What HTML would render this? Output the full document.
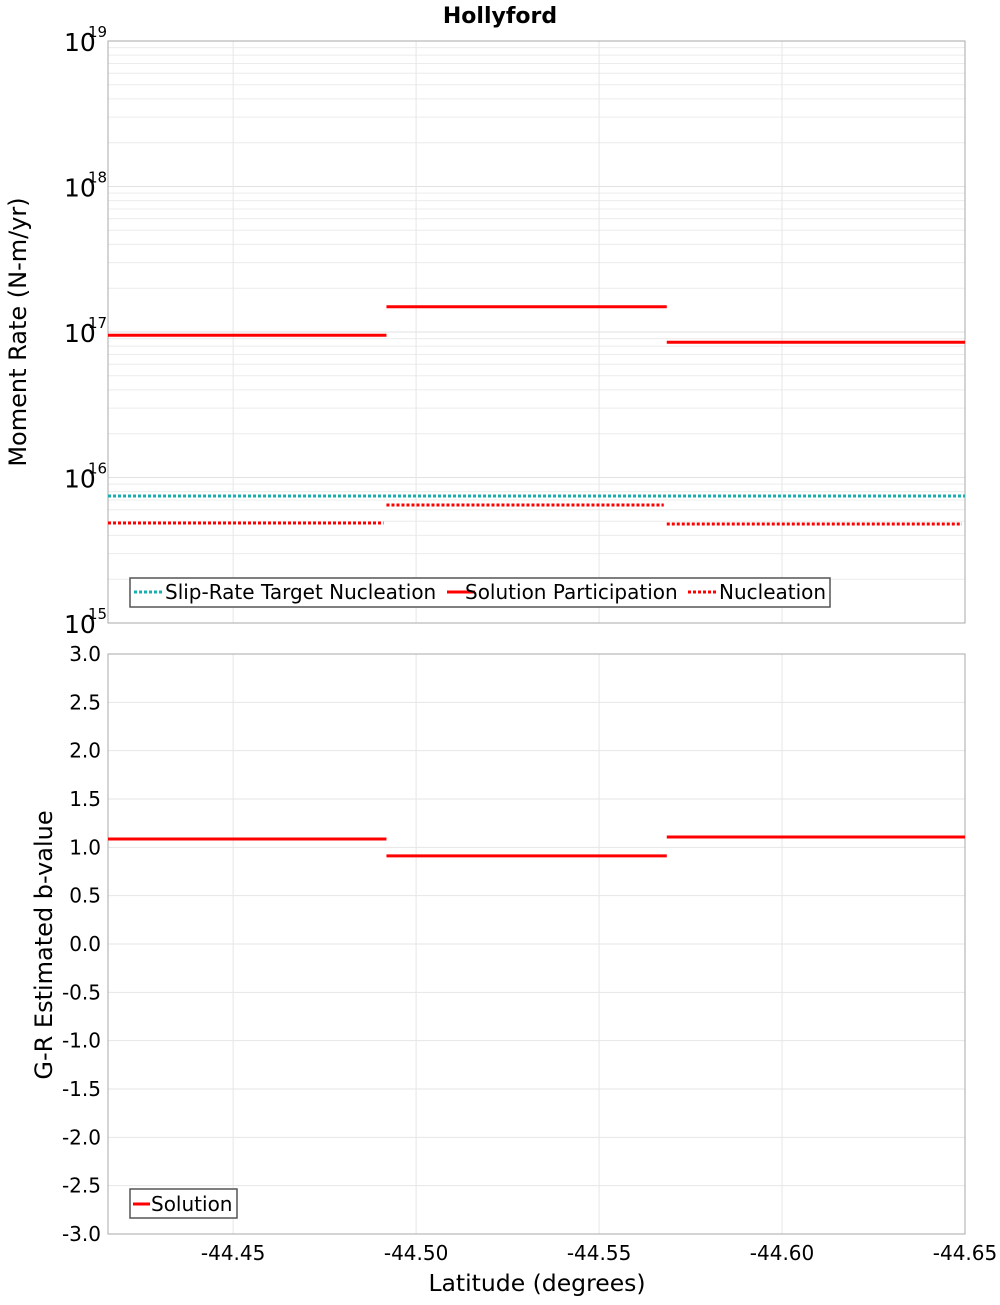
<!DOCTYPE html>
<html><head><meta charset="utf-8"><style>
body{margin:0;background:#fff;}
svg text{font-family:"DejaVu Sans","Liberation Sans",sans-serif;}
</style></head><body>
<svg id="c" width="1000" height="1300" xmlns="http://www.w3.org/2000/svg">
<text x="500" y="23" text-anchor="middle" font-size="22" font-weight="bold">Hollyford</text>
<g id="g1"></g>
<g id="g2"></g>
<text transform="translate(26,332) rotate(-90)" text-anchor="middle" font-size="24">Moment Rate (N-m/yr)</text>
<text transform="translate(52,945) rotate(-90)" text-anchor="middle" font-size="24">G-R Estimated b-value</text>
<text x="537" y="1291" text-anchor="middle" font-size="23.5">Latitude (degrees)</text>
</svg>
<script>
const segStarts=[44.4158,44.4919,44.5685];
const segEnds=[44.4919,44.5685,44.65];
const participation=[9.5e16,1.49e17,8.5e16];
const nucleation=[4.87e15,6.47e15,4.79e15];
const slipTarget=7.46e15;
const bValues=[1.086,0.911,1.107];
const xTicks=[44.45,44.50,44.55,44.60,44.65];
const xTickLabels=["-44.45","-44.50","-44.55","-44.60","-44.65"];
const logDecades=[15,16,17,18,19];
const bTicks=[3.0,2.5,2.0,1.5,1.0,0.5,0.0,-0.5,-1.0,-1.5,-2.0,-2.5,-3.0];

const NS="http://www.w3.org/2000/svg";
const L=108,R=965;
const X0=44.4158,X1=44.65;
function sx(v){return L+(v-X0)/(X1-X0)*(R-L);}
const T1=41,B1=623;
function sy1(v){return B1-(Math.log10(v)-15)/4*(B1-T1);}
const T2=654,B2=1234;
function sy2(v){return B2-(v+3)/6*(B2-T2);}
function mk(p,tag,a){const e=document.createElementNS(NS,tag);for(const k in a)e.setAttribute(k,a[k]);p.appendChild(e);return e;}
const g1=document.getElementById('g1'),g2=document.getElementById('g2');

for(let d=15;d<19;d++){for(let m=2;m<10;m++){const y=sy1(m*Math.pow(10,d));
 const l=mk(g1,'line',{x1:L,x2:R,y1:y,y2:y,stroke:'#ececec','stroke-width':1});
 
 }}
logDecades.forEach(d=>{const y=sy1(Math.pow(10,d));
 const l=mk(g1,'line',{x1:L,x2:R,y1:y,y2:y,stroke:'#e2e2e2','stroke-width':1});
 
 
 const t=mk(g1,'text',{x:64,y:y+10,'font-size':25});
 
 
 t.textContent='10';
 const s=mk(g1,'text',{x:88,y:y-4,'font-size':15});
 
 
 s.textContent=String(d);});
xTicks.forEach(v=>{[[T1,B1,g1],[T2,B2,g2]].forEach(([a,b,g])=>{const l=mk(g,'line',{x1:sx(v),x2:sx(v),y1:a,y2:b,stroke:'#e6e6e6','stroke-width':1});
 
 });});
let f=mk(g1,'rect',{x:L,y:T1,width:R-L,height:B1-T1,fill:'none',stroke:'#aaa'});


let tl=mk(g1,'line',{x1:sx(X0),x2:sx(X1),y1:sy1(slipTarget),y2:sy1(slipTarget),stroke:'#1aafaf','stroke-width':3,'stroke-dasharray':'3,2'});


for(let i=0;i<3;i++){
 const p=mk(g1,'line',{x1:sx(segStarts[i]),x2:sx(segEnds[i]),y1:sy1(participation[i]),y2:sy1(participation[i]),stroke:'#f00','stroke-width':3});
 
 
 const n=mk(g1,'line',{x1:sx(segStarts[i]),x2:sx(segEnds[i])-3,y1:sy1(nucleation[i]),y2:sy1(nucleation[i]),stroke:'#f00','stroke-width':3,'stroke-dasharray':'3,2'});
 
 
}
const lg=mk(g1,'g',{});


mk(lg,'rect',{x:130,y:578,width:700,height:29,fill:'#fff',stroke:'#555','stroke-width':1.5});
[[134,'#1aafaf','3,2','Slip-Rate Target Nucleation',165],[447,'#f00','', 'Solution Participation',465],[688,'#f00','3,2','Nucleation',719]].forEach(([x,c,da,t,tx])=>{
 const e=mk(lg,'line',{x1:x,x2:x+28,y1:592,y2:592,stroke:c,'stroke-width':3});if(da)e.setAttribute('stroke-dasharray',da);
 
 
 const tt=mk(lg,'text',{x:tx,y:599,'font-size':20});tt.textContent=t;
 
 });

bTicks.forEach(v=>{const y=sy2(v);
 const l=mk(g2,'line',{x1:L,x2:R,y1:y,y2:y,stroke:'#e6e6e6','stroke-width':1});
 
 
 const t=mk(g2,'text',{x:101,y:y+7,'font-size':20,'text-anchor':'end'});t.textContent=v.toFixed(1);
 
 });
f=mk(g2,'rect',{x:L,y:T2,width:R-L,height:B2-T2,fill:'none',stroke:'#aaa'});


for(let i=0;i<3;i++){
 const p=mk(g2,'line',{x1:sx(segStarts[i]),x2:sx(segEnds[i]),y1:sy2(bValues[i]),y2:sy2(bValues[i]),stroke:'#f00','stroke-width':3});
 
 }
xTicks.forEach((v,i)=>{const t=mk(g2,'text',{x:sx(v),y:1260,'font-size':20,'text-anchor':'middle'});t.textContent=xTickLabels[i];
 
 });
const lg2=mk(g2,'g',{});


mk(lg2,'rect',{x:130,y:1189,width:107,height:29,fill:'#fff',stroke:'#555','stroke-width':1.5});
const ls=mk(lg2,'line',{x1:133,x2:150,y1:1204,y2:1204,stroke:'#f00','stroke-width':3});


const lt=mk(lg2,'text',{x:151,y:1211,'font-size':20});lt.textContent='Solution';


</script>
</body></html>
